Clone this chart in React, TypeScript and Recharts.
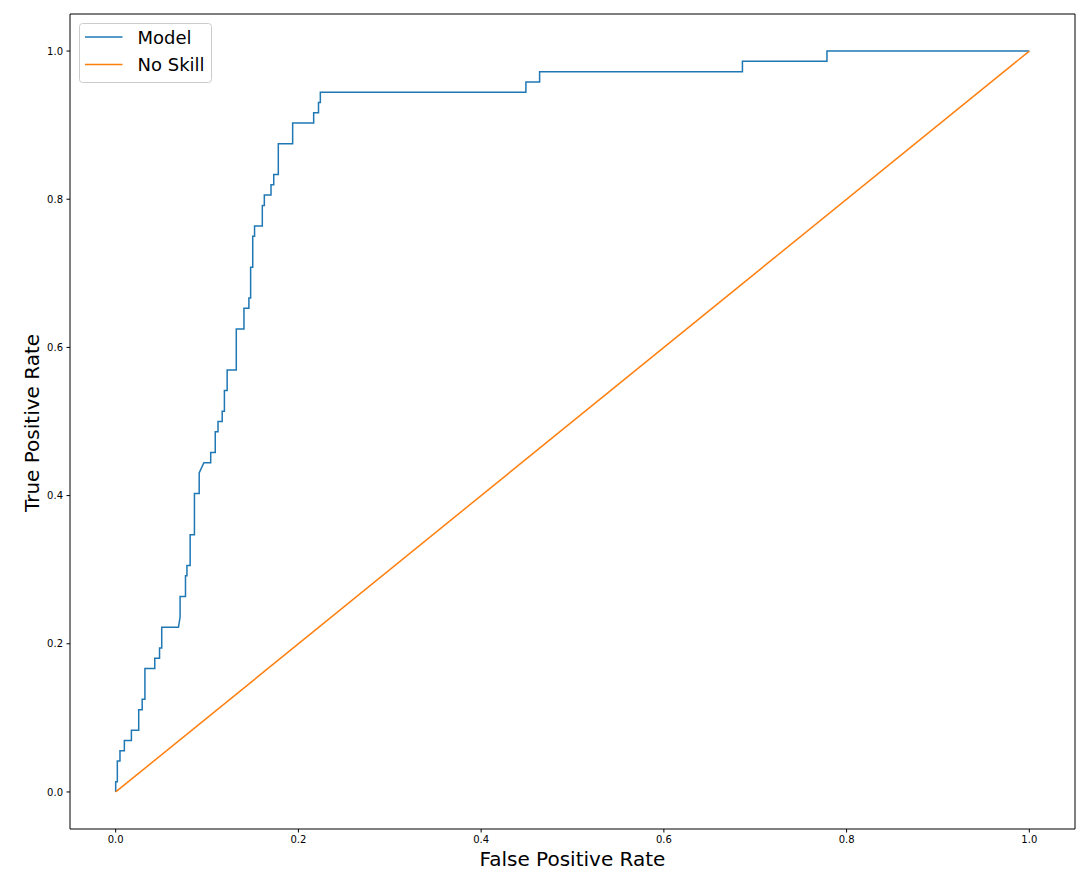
import React from 'react';
import { LineChart, Line, XAxis, YAxis, Legend, ReferenceLine } from 'recharts';

const modelFpr = [
  0, 0, 0.0018, 0.0018, 0.0047, 0.0047, 0.0095, 0.0095, 0.0172, 0.0172,
  0.0252, 0.0252, 0.029, 0.029, 0.032, 0.032, 0.0428, 0.0428, 0.048, 0.048,
  0.0504, 0.0504, 0.0687, 0.0705, 0.0705, 0.0764, 0.0764, 0.078, 0.078, 0.0815,
  0.0815, 0.0862, 0.0862, 0.0914, 0.0914, 0.0965, 0.104, 0.104, 0.109, 0.109,
  0.112, 0.112, 0.1166, 0.1166, 0.119, 0.119, 0.122, 0.122, 0.132, 0.132,
  0.1404, 0.1404, 0.1458, 0.1458, 0.1477, 0.1477, 0.15, 0.15, 0.152, 0.152,
  0.1605, 0.1605, 0.1627, 0.1627, 0.17, 0.17, 0.173, 0.173, 0.178, 0.178,
  0.1937, 0.1937, 0.2167, 0.2167, 0.222, 0.222, 0.224, 0.224, 0.449, 0.449,
  0.464, 0.464, 0.686, 0.686, 0.7785, 0.7785, 1,
];

const modelTpr = [
  0, 0.0139, 0.0139, 0.0417, 0.0417, 0.0556, 0.0556, 0.0694, 0.0694, 0.0833,
  0.0833, 0.1111, 0.1111, 0.125, 0.125, 0.1667, 0.1667, 0.1806, 0.1806, 0.1944,
  0.1944, 0.2222, 0.2222, 0.2361, 0.2639, 0.2639, 0.2917, 0.2917, 0.3056, 0.3056,
  0.3472, 0.3472, 0.4028, 0.4028, 0.4306, 0.4444, 0.4444, 0.4583, 0.4583, 0.4861,
  0.4861, 0.5, 0.5, 0.5139, 0.5139, 0.5417, 0.5417, 0.5694, 0.5694, 0.625,
  0.625, 0.6528, 0.6528, 0.6667, 0.6667, 0.7083, 0.7083, 0.75, 0.75, 0.7639,
  0.7639, 0.7917, 0.7917, 0.8056, 0.8056, 0.8194, 0.8194, 0.8333, 0.8333, 0.875,
  0.875, 0.9028, 0.9028, 0.9167, 0.9167, 0.9306, 0.9306, 0.9444, 0.9444, 0.9583,
  0.9583, 0.9722, 0.9722, 0.9861, 0.9861, 1, 1,
];

const noSkillFpr = [0, 1];
const noSkillTpr = [0, 1];

const tickValues = [0, 0.2, 0.4, 0.6, 0.8, 1.0];
const seriesNames = ['Model', 'No Skill'];
const seriesColors = ['#1f77b4', '#ff7f0e'];
const xLabel = 'False Positive Rate';
const yLabel = 'True Positive Rate';

const modelData = modelFpr.map((f, i) => ({ fpr: f, tpr: modelTpr[i] }));
const noSkillData = noSkillFpr.map((f, i) => ({ fpr: f, tpr: noSkillTpr[i] }));

const FONT = '"DejaVu Sans", sans-serif';
const domainMin = -0.05;
const domainMax = 1.05;
const domain: [number, number] = [domainMin, domainMax];

const LegendBox = () => (
  <svg width={134} height={61} style={{ display: 'block' }}>
    <rect x={0.5} y={0.5} width={132} height={59} rx={3} ry={3} fill="rgba(255,255,255,0.8)" stroke="#cccccc" strokeWidth={1} />
    {seriesNames.map((name, i) => (
      <g key={name}>
        <line x1={6} x2={43.5} y1={14 + i * 27.5} y2={14 + i * 27.5} stroke={seriesColors[i]} strokeWidth={1.5} />
        <text x={58.5} y={20.5 + i * 27.5} fontSize={18} fontFamily={FONT} fill="#000">{name}</text>
      </g>
    ))}
  </svg>
);

export default function App() {
  return (
    <div style={{ position: 'absolute', left: 0, top: 0, width: 1089, height: 874, background: '#fff' }}>
      <LineChart width={1089} height={874} margin={{ top: 14, right: 14, bottom: 0, left: 0 }}>
        <XAxis
          dataKey="fpr"
          type="number"
          domain={domain}
          ticks={tickValues}
          tickFormatter={(v: number) => v.toFixed(1)}
          height={45}
          tickSize={3.5}
          tickMargin={3}
          axisLine={{ stroke: '#000', strokeWidth: 1 }}
          tickLine={{ stroke: '#000' }}
          tick={{ fill: '#000', fontSize: 10, fontFamily: FONT }}
          allowDataOverflow
          label={{ value: xLabel, position: 'insideBottom', offset: 8, fontSize: 20, fontFamily: FONT, fill: '#000' }}
        />
        <YAxis
          dataKey="tpr"
          type="number"
          domain={domain}
          ticks={tickValues}
          tickFormatter={(v: number) => v.toFixed(1)}
          width={70}
          tickSize={3.5}
          tickMargin={3.5}
          axisLine={{ stroke: '#000', strokeWidth: 1 }}
          tickLine={{ stroke: '#000' }}
          tick={{ fill: '#000', fontSize: 10, fontFamily: FONT }}
          allowDataOverflow
          label={{
            content: () => (
              <text x={38.5} y={423} transform="rotate(-90, 38.5, 423)" textAnchor="middle" fontSize={20} fontFamily={FONT} fill="#000">
                {yLabel}
              </text>
            ),
          }}
        />
        <ReferenceLine y={domainMax} stroke="#000" strokeWidth={1} ifOverflow="visible" />
        <ReferenceLine x={domainMax} stroke="#000" strokeWidth={1} ifOverflow="visible" />
        <Legend
          layout="vertical"
          align="center"
          verticalAlign="middle"
          wrapperStyle={{ left: 79, top: 23, width: 134, height: 61 }}
          content={() => <LegendBox />}
        />
        <Line
          data={modelData}
          dataKey="tpr"
          name={seriesNames[0]}
          type="linear"
          stroke={seriesColors[0]}
          strokeWidth={1.5}
          dot={false}
          activeDot={false}
          isAnimationActive={false}
        />
        <Line
          data={noSkillData}
          dataKey="tpr"
          name={seriesNames[1]}
          type="linear"
          stroke={seriesColors[1]}
          strokeWidth={1.5}
          dot={false}
          activeDot={false}
          isAnimationActive={false}
        />
      </LineChart>
    </div>
  );
}
